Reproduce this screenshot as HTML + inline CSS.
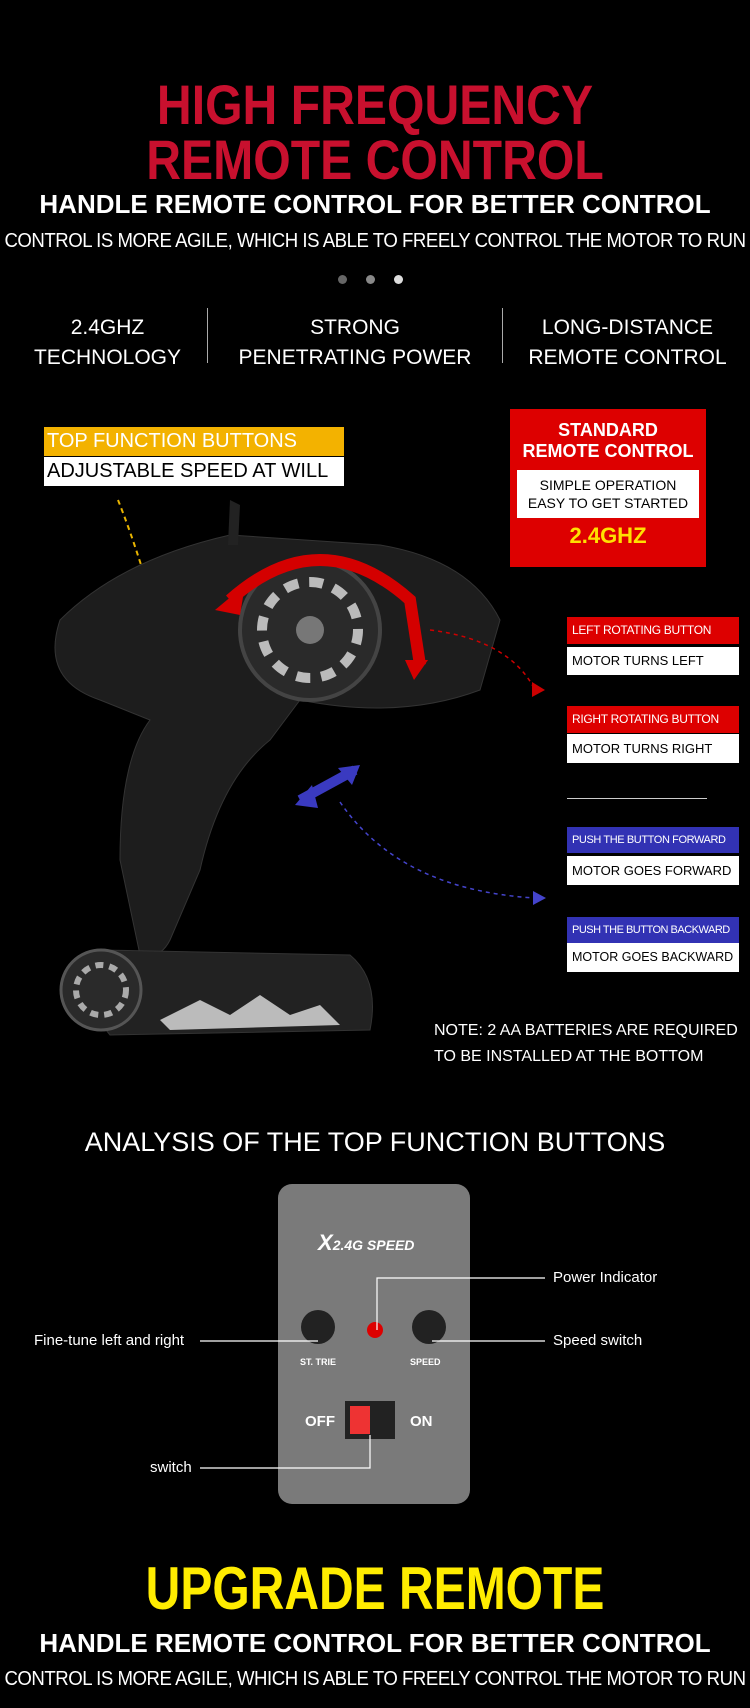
<!DOCTYPE html>
<html><head><meta charset="utf-8"><style>
body{margin:0;background:#000;}
#p{position:relative;width:750px;height:1708px;background:#000;overflow:hidden;font-family:"Liberation Sans",sans-serif;color:#fff}
.a{position:absolute;white-space:nowrap}
.c{left:0;width:750px;text-align:center;transform-origin:375px 0}
.w{left:-125px;width:1000px;text-align:center;transform-origin:500px 0}
</style></head><body><div id="p">
<div class="a c" style="top:72px;font-size:56px;font-weight:bold;color:#c8102e;transform:scaleX(0.86)">HIGH FREQUENCY</div>
<div class="a c" style="top:127px;font-size:56px;font-weight:bold;color:#c8102e;transform:scaleX(0.86)">REMOTE CONTROL</div>
<div class="a c" style="top:189px;font-size:26px;font-weight:bold">HANDLE REMOTE CONTROL FOR BETTER CONTROL</div>
<div class="a w" style="top:230px;font-size:20px;letter-spacing:-0.5px;transform:scaleX(0.93)">CONTROL IS MORE AGILE, WHICH IS ABLE TO FREELY CONTROL THE MOTOR TO RUN</div>
<div class="a" style="left:338px;top:275px;width:9px;height:9px;border-radius:50%;background:#666"></div>
<div class="a" style="left:366px;top:275px;width:9px;height:9px;border-radius:50%;background:#888"></div>
<div class="a" style="left:394px;top:275px;width:9px;height:9px;border-radius:50%;background:#ddd"></div>
<div class="a" style="left:10px;width:195px;top:313px;text-align:center;font-size:21px;line-height:30px">2.4GHZ<br>TECHNOLOGY</div>
<div class="a" style="left:207px;top:308px;width:1px;height:55px;background:#aaa"></div>
<div class="a" style="left:210px;width:290px;top:313px;text-align:center;font-size:21px;line-height:30px">STRONG<br>PENETRATING POWER</div>
<div class="a" style="left:502px;top:308px;width:1px;height:55px;background:#aaa"></div>
<div class="a" style="left:505px;width:245px;top:313px;text-align:center;font-size:21px;line-height:30px">LONG-DISTANCE<br>REMOTE CONTROL</div>

<svg class="a" style="left:0;top:480px" width="750" height="600" viewBox="0 480 750 600">
<path d="M118 500 Q130 530 142 568" stroke="#e8b400" stroke-width="2" stroke-dasharray="5,4" fill="none"/>
<path d="M60 620 Q120 560 230 535 L380 545 Q470 560 500 620 L480 690 Q400 720 300 700 L270 740 Q220 780 200 870 L170 940 Q160 960 140 955 L120 860 Q120 760 150 720 L100 700 Q40 680 60 620Z" fill="#1d1d1d" stroke="#333"/>
<path d="M230 500 L240 505 L238 545 L228 545Z" fill="#222"/>
<path d="M100 950 L350 955 Q380 980 370 1030 L110 1035 Q80 1000 100 950Z" fill="#222" stroke="#333"/>
<path d="M160 1020 L200 1000 L230 1015 L260 995 L290 1015 L320 1005 L340 1025 L170 1030Z" fill="#bbb"/>
<circle cx="101" cy="990" r="40" fill="#2a2a2a" stroke="#555" stroke-width="3"/>
<circle cx="101" cy="990" r="25" fill="none" stroke="#aaa" stroke-width="6" stroke-dasharray="8,6"/>
<circle cx="310" cy="630" r="70" fill="#2a2a2a" stroke="#444" stroke-width="4"/>
<circle cx="310" cy="630" r="48" fill="none" stroke="#bbb" stroke-width="10" stroke-dasharray="14,11"/>
<circle cx="310" cy="630" r="14" fill="#777"/>
<path d="M230 600 Q320 520 410 600 L420 665" stroke="#d40000" stroke-width="12" fill="none"/>
<path d="M405 660 L428 660 L414 680Z" fill="#d40000"/>
<path d="M215 610 L245 585 L240 615Z" fill="#d40000"/>
<path d="M300 800 L355 770" stroke="#3a3ac0" stroke-width="10"/>
<path d="M295 805 L312 785 L318 808Z M360 765 L338 768 L352 785Z" fill="#3a3ac0"/>
<path d="M430 630 Q510 640 535 690" stroke="#c00" stroke-width="1.5" stroke-dasharray="4,4" fill="none"/>
<path d="M532 682 L545 690 L532 697Z" fill="#c00"/>
<path d="M340 802 Q400 890 535 898" stroke="#44c" stroke-width="1.5" stroke-dasharray="4,4" fill="none"/>
<path d="M533 891 L546 898 L533 905Z" fill="#44c"/>
</svg>

<div class="a" style="left:44px;top:427px;width:300px;height:29px;background:#f3b200;font-size:20px;line-height:29px;text-indent:3px">TOP FUNCTION BUTTONS</div>
<div class="a" style="left:44px;top:457px;width:300px;height:29px;background:#fff;color:#000;font-size:20px;line-height:29px;text-indent:3px">ADJUSTABLE SPEED AT WILL</div>

<div class="a" style="left:510px;top:409px;width:196px;height:158px;background:#d00;text-align:center">
<div style="font-weight:bold;font-size:18px;line-height:21px;margin-top:11px">STANDARD<br>REMOTE CONTROL</div>
<div style="margin:8px 7px 0;background:#fff;color:#000;font-size:14px;line-height:18px;padding:6px 0">SIMPLE OPERATION<br>EASY TO GET STARTED</div>
<div style="color:#ffe000;font-weight:bold;font-size:22px;margin-top:5px">2.4GHZ</div></div>

<div class="a" style="left:567px;top:617px;width:172px;height:27px;background:#d00;font-size:12px;line-height:27px;text-indent:5px;letter-spacing:-0.3px">LEFT ROTATING BUTTON</div>
<div class="a" style="left:567px;top:647px;width:172px;height:28px;background:#fff;color:#000;font-size:13px;line-height:28px;text-indent:5px">MOTOR TURNS LEFT</div>
<div class="a" style="left:567px;top:706px;width:172px;height:27px;background:#d00;font-size:12px;line-height:27px;text-indent:5px;letter-spacing:-0.3px">RIGHT ROTATING BUTTON</div>
<div class="a" style="left:567px;top:734px;width:172px;height:29px;background:#fff;color:#000;font-size:13px;line-height:29px;text-indent:5px">MOTOR TURNS RIGHT</div>
<div class="a" style="left:567px;top:798px;width:140px;height:1px;background:#ccc"></div>
<div class="a" style="left:567px;top:827px;width:172px;height:26px;background:#3232b4;font-size:11px;line-height:26px;text-indent:5px;letter-spacing:-0.4px">PUSH THE BUTTON FORWARD</div>
<div class="a" style="left:567px;top:856px;width:172px;height:29px;background:#fff;color:#000;font-size:13px;line-height:29px;text-indent:5px">MOTOR GOES FORWARD</div>
<div class="a" style="left:567px;top:917px;width:172px;height:26px;background:#3232b4;font-size:11px;line-height:26px;text-indent:5px;letter-spacing:-0.5px">PUSH THE BUTTON BACKWARD</div>
<div class="a" style="left:567px;top:943px;width:172px;height:29px;background:#fff;color:#000;font-size:12.5px;line-height:29px;text-indent:5px">MOTOR GOES BACKWARD</div>
<div class="a" style="left:434px;top:1018px;font-size:16px;line-height:26px">NOTE: 2 AA BATTERIES ARE REQUIRED<br>TO BE INSTALLED AT THE BOTTOM</div>

<div class="a c" style="top:1127px;font-size:27px">ANALYSIS OF THE TOP FUNCTION BUTTONS</div>
<div class="a" style="left:278px;top:1184px;width:192px;height:320px;background:#7a7a7a;border-radius:14px"></div>
<div class="a" style="left:318px;top:1230px;font-size:22px;font-weight:bold;font-style:italic;color:#fff">X<span style="font-size:14px">2.4G SPEED</span></div>
<div class="a" style="left:301px;top:1310px;width:34px;height:34px;border-radius:50%;background:#222"></div>
<div class="a" style="left:412px;top:1310px;width:34px;height:34px;border-radius:50%;background:#222"></div>
<div class="a" style="left:367px;top:1322px;width:16px;height:16px;border-radius:50%;background:#d00"></div>
<div class="a" style="left:300px;top:1357px;font-size:9px;font-weight:bold">ST. TRIE</div>
<div class="a" style="left:410px;top:1357px;font-size:9px;font-weight:bold">SPEED</div>
<div class="a" style="left:305px;top:1413px;font-size:15px;font-weight:bold">OFF</div>
<div class="a" style="left:410px;top:1413px;font-size:15px;font-weight:bold">ON</div>
<div class="a" style="left:345px;top:1401px;width:50px;height:38px;background:#222"></div>
<div class="a" style="left:350px;top:1406px;width:20px;height:28px;background:#e33"></div>
<svg class="a" style="left:0;top:1250px" width="750" height="240">
<path d="M377 80 L377 28 L545 28 M200 91 L318 91 M432 91 L545 91 M200 218 L370 218 L370 185" stroke="#fff" stroke-width="1.2" fill="none"/></svg>
<div class="a" style="left:553px;top:1269px;font-size:15px">Power Indicator</div>
<div class="a" style="left:553px;top:1332px;font-size:15px">Speed switch</div>
<div class="a" style="left:34px;top:1332px;font-size:15px">Fine-tune left and right</div>
<div class="a" style="left:150px;top:1459px;font-size:15px">switch</div>

<div class="a c" style="top:1554px;font-size:60px;font-weight:bold;color:#ffec00;transform:scaleX(0.8)">UPGRADE REMOTE</div>
<div class="a c" style="top:1628px;font-size:26px;font-weight:bold">HANDLE REMOTE CONTROL FOR BETTER CONTROL</div>
<div class="a w" style="top:1668px;font-size:20px;letter-spacing:-0.5px;transform:scaleX(0.93)">CONTROL IS MORE AGILE, WHICH IS ABLE TO FREELY CONTROL THE MOTOR TO RUN</div>
</div></body></html>
